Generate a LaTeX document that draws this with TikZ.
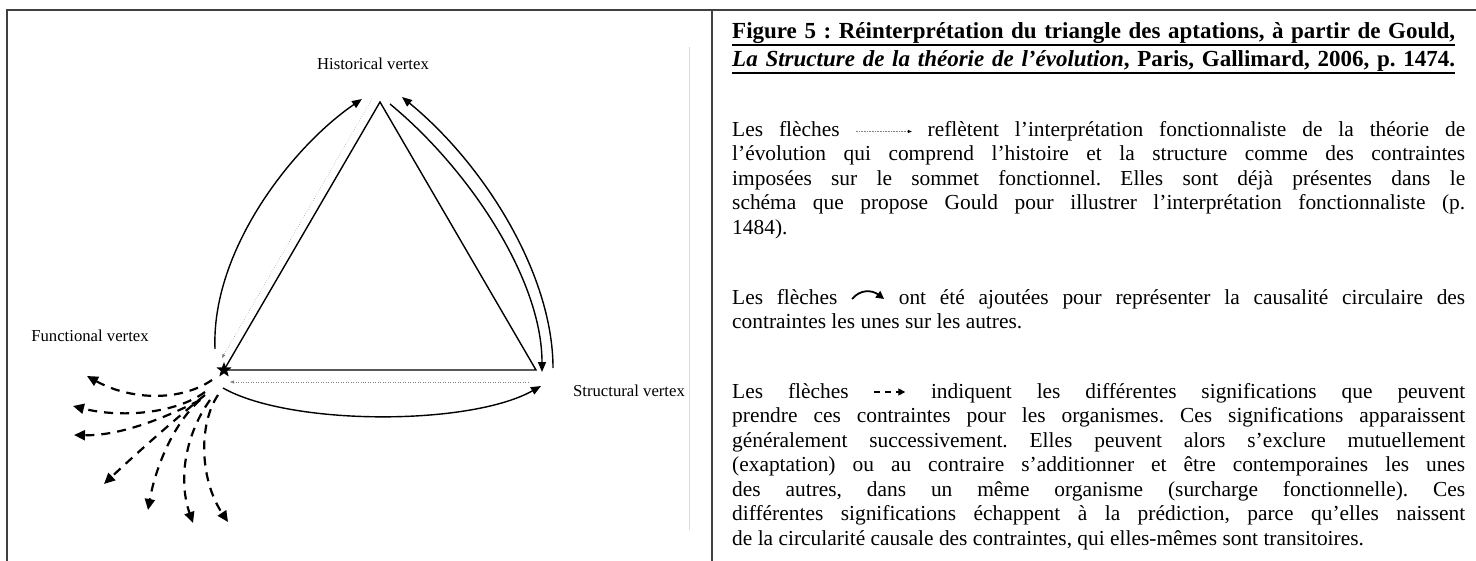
\documentclass[tikz,border=0pt]{standalone}
\usepackage{fontspec}
\setmainfont{Liberation Serif}
\usetikzlibrary{arrows.meta,shapes.geometric}
\frenchspacing
\newcommand{\symdot}{\tikz[x=1bp,y=1bp,baseline=0pt]{\draw[gray,line width=0.6bp,densely dotted] (0,5) -- (52,5); \fill (52,3.3) -- (56,5) -- (52,6.7) -- cycle;}}
\newcommand{\symarc}{\tikz[x=1bp,y=1bp,baseline=0pt]{\draw[line width=1.8bp,-{Triangle[length=8bp,width=8bp]}] (0,5) .. controls (8,15) and (20,14) .. (32,5);}}
\newcommand{\symdash}{\tikz[x=1bp,y=1bp,baseline=0pt]{\draw[line width=1.6bp] (0,6)--(6,6) (11,6)--(17,6); \draw[line width=1.6bp,-{Triangle[length=7bp,width=7bp]}] (22,6)--(31,6);}}
\begin{document}
\begin{tikzpicture}[x=1bp,y=-1bp,
  lab/.style={font=\fontsize{16.7bp}{20bp}\selectfont, inner sep=0},
  body/.style={font=\fontsize{21.4bp}{24.5bp}\selectfont\frenchspacing, inner sep=0, anchor=base west},
  ttl/.style={font=\fontsize{23bp}{26bp}\selectfont\bfseries\frenchspacing, inner sep=0, anchor=base west},
  triedge/.style={line width=1.4bp, line join=miter},
  solidarc/.style={line width=1.4bp, -{Triangle[length=10bp,width=8bp]}},
  dotarr/.style={line width=0.5bp, gray, dotted, -{Triangle[length=4bp,width=3bp]}},
  dsh/.style={line width=2.2bp, dash pattern=on 9bp off 7bp, -{Triangle[length=11bp,width=10bp]}},
  frame/.style={line width=1.6bp, draw=black!75},
]
\useasboundingbox (0,0) rectangle (1476,561);
% frame
\coordinate (tl) at (6.7,10);
\coordinate (tr) at (1476,10);
\coordinate (bl) at (6.7,561);
\coordinate (dt) at (712,10);
\coordinate (db) at (712,561);
\draw[frame] (bl) -- (tl) -- (tr);
\draw[frame] (dt) -- (db);
\coordinate (g0) at (689,47);
\coordinate (g1) at (689,530);
\draw[black!15, line width=0.8bp] (g0) -- (g1);

% labels
\node[lab] (hist) at (373,64) {Historical vertex};
\node[lab] (func) at (90,336) {Functional vertex};
\node[lab] (struc) at (629,391) {Structural vertex};

% triangle
\coordinate (F) at (224,370);
\coordinate (H) at (380,102);
\coordinate (S) at (536,370);
\draw[triedge] (F) -- (H) -- (S) -- cycle;
\node[star, star points=5, star point ratio=2.4, fill, inner sep=0, minimum size=16bp] (fstar) at (F) {};

% solid arcs
\coordinate (la0) at (215,349); \coordinate (la1) at (362,99);
\draw[solidarc] (la0) .. controls (211,250) and (293,146) .. (la1);
\coordinate (ri0) at (390,104); \coordinate (ri1) at (542,372);
\draw[solidarc] (ri0) .. controls (470,170) and (542,280) .. (ri1);
\coordinate (ro0) at (553,368); \coordinate (ro1) at (402,97);
\draw[solidarc] (ro0) .. controls (553,275) and (485,165) .. (ro1);
\coordinate (b0) at (223,388); \coordinate (b1) at (541,386);
\draw[solidarc] (b0) .. controls (290,426) and (470,426) .. (b1);

% dotted arrows
\coordinate (d0) at (372,99); \coordinate (d1) at (222,358);
\draw[dotarr] (d0) -- (d1);
\coordinate (e0) at (528,382); \coordinate (e1) at (230,382);
\draw[dotarr] (e0) -- (e1);

% dashed arrows
\coordinate (s1) at (212,380); \coordinate (t1) at (87,376);
\draw[dsh] (s1) .. controls (180,402) and (130,400) .. (t1);
\coordinate (s2) at (205,392); \coordinate (t2) at (73,406);
\draw[dsh] (s2) .. controls (175,414) and (120,418) .. (t2);
\coordinate (s3) at (200,400); \coordinate (t3) at (74,435);
\draw[dsh] (s3) .. controls (165,418) and (120,436) .. (t3);
\coordinate (s4) at (205,395); \coordinate (t4) at (104,484);
\draw[dsh] (s4) .. controls (180,415) and (140,450) .. (t4);
\coordinate (s5) at (200,400); \coordinate (t5) at (148,510);
\draw[dsh] (s5) .. controls (172,425) and (155,470) .. (t5);
\coordinate (s6) at (210,400); \coordinate (t6) at (193,523);
\draw[dsh] (s6) .. controls (185,435) and (178,480) .. (t6);
\coordinate (s7) at (218,395); \coordinate (t7) at (228,522);
\draw[dsh] (s7) .. controls (198,425) and (200,480) .. (t7);

% title
\node[ttl] (ti1) at (732,39) {\makebox[723bp][s]{Figure 5 : Réinterprétation du triangle des aptations, à partir de Gould,}};
\node[ttl] (ti2) at (732,67) {\makebox[723bp][s]{\textit{La Structure de la théorie de l’évolution}, Paris, Gallimard, 2006, p. 1474.}};
\draw[line width=1.8bp] ([yshift=-6bp]ti1.base west) -- ([yshift=-6bp]ti1.base east);
\draw[line width=1.8bp] ([yshift=-6bp]ti2.base west) -- ([yshift=-6bp]ti2.base east);

% paragraph 1
\node[body] (p11) at (732,136.5) {\makebox[733bp][s]{Les flèches \symdot{} reflètent l’interprétation fonctionnaliste de la théorie de}};
\node[body] (p12) at (732,161) {\makebox[733bp][s]{l’évolution qui comprend l’histoire et la structure comme des contraintes}};
\node[body] (p13) at (732,185.5) {\makebox[733bp][s]{imposées sur le sommet fonctionnel. Elles sont déjà présentes dans le}};
\node[body] (p14) at (732,210) {\makebox[733bp][s]{schéma que propose Gould pour illustrer l’interprétation fonctionnaliste (p.}};
\node[body] (p15) at (732,234.5) {1484).};
% paragraph 2
\node[body] (p21) at (732,304) {\makebox[733bp][s]{Les flèches \symarc{} ont été ajoutées pour représenter la causalité circulaire des}};
\node[body] (p22) at (732,328.5) {contraintes les unes sur les autres.};
% paragraph 3
\node[body] (p31) at (732,398) {\makebox[733bp][s]{Les flèches \symdash{} indiquent les différentes significations que peuvent}};
\node[body] (p32) at (732,422.5) {\makebox[733bp][s]{prendre ces contraintes pour les organismes. Ces significations apparaissent}};
\node[body] (p33) at (732,447) {\makebox[733bp][s]{généralement successivement. Elles peuvent alors s’exclure mutuellement}};
\node[body] (p34) at (732,471.5) {\makebox[733bp][s]{(exaptation) ou au contraire s’additionner et être contemporaines les unes}};
\node[body] (p35) at (732,496) {\makebox[733bp][s]{des autres, dans un même organisme (surcharge fonctionnelle). Ces}};
\node[body] (p36) at (732,520.5) {\makebox[733bp][s]{différentes significations échappent à la prédiction, parce qu’elles naissent}};
\node[body] (p37) at (732,545) {de la circularité causale des contraintes, qui elles-mêmes sont transitoires.};
\end{tikzpicture}
\end{document}
